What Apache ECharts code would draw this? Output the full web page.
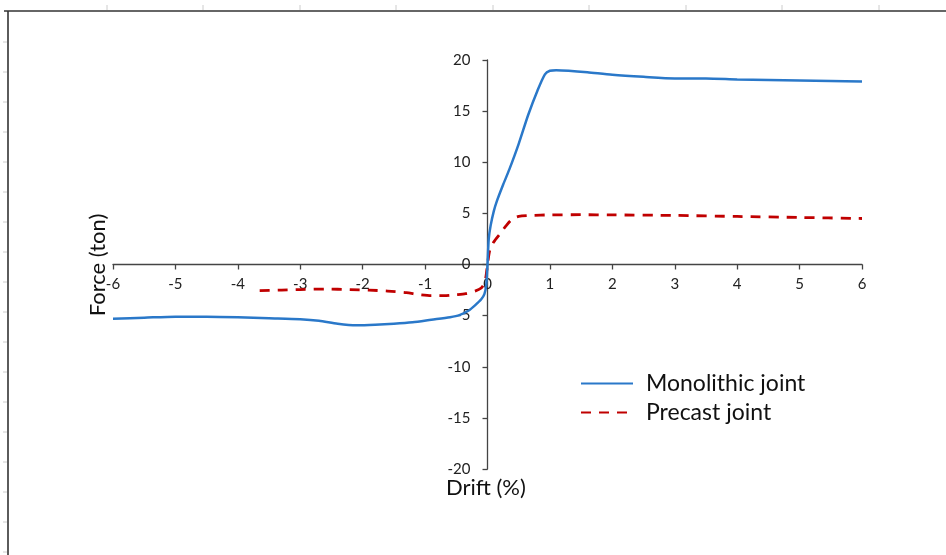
<!DOCTYPE html>
<html><head><meta charset="utf-8">
<script src="https://cdn.jsdelivr.net/npm/echarts@6/dist/echarts.min.js"></script>
<style>html,body{margin:0;padding:0;background:#fff}#c{width:946px;height:555px}</style>
</head><body><div id="c"></div>
<script>
const xTicks = [-6,-5,-4,-3,-2,-1,0,1,2,3,4,5,6];
const yTicks = [-20,-15,-10,-5,0,5,10,15,20];
const seriesNames = ['Monolithic joint','Precast joint'];
const monoDrift = [-6,-5.5,-5,-4.5,-4,-3.5,-3,-2.7,-2.4,-2.1,-1.8,-1.5,-1.2,-0.9,-0.6,-0.45,-0.3,-0.2,-0.1,-0.05,-0.02,0,0.02,0.05,0.1,0.15,0.25,0.35,0.5,0.65,0.8,0.92,1.0,1.1,1.3,1.6,2,2.5,3,3.5,4,4.5,5,5.5,6];
const monoForce = [-5.3,-5.2,-5.1,-5.1,-5.15,-5.25,-5.35,-5.5,-5.8,-5.95,-5.9,-5.8,-5.65,-5.4,-5.15,-4.95,-4.5,-4.0,-3.4,-2.9,-2.0,0,2.5,3.8,5.2,6.2,7.8,9.3,11.8,14.6,17.0,18.6,18.95,19.0,18.95,18.8,18.55,18.35,18.2,18.2,18.1,18.05,18.0,17.95,17.9];
const precDrift = [-3.65,-3.3,-3,-2.6,-2.2,-1.9,-1.6,-1.3,-1.1,-0.9,-0.7,-0.5,-0.35,-0.2,-0.1,-0.04,0,0.04,0.1,0.2,0.3,0.4,0.5,0.7,1,1.5,2,3,4,5,6];
const precForce = [-2.55,-2.5,-2.45,-2.4,-2.45,-2.5,-2.6,-2.75,-2.95,-3.05,-3.05,-2.95,-2.85,-2.6,-2.3,-1.7,0,1.5,2.2,3.0,3.8,4.45,4.7,4.8,4.85,4.87,4.85,4.8,4.7,4.6,4.5];

const pair = (xs, ys) => xs.map((x,i)=>[x, ys[i]]);
const FONT = 'Lato';
const chart = echarts.init(document.getElementById('c'));

const gfx = [
  {type:'line', shape:{x1:4,y1:11,x2:946,y2:11}, style:{stroke:'#333',lineWidth:1.6}},
  {type:'line', shape:{x1:8,y1:11,x2:8,y2:555}, style:{stroke:'#333',lineWidth:1.6}},
  {type:'text', x:98, y:265, rotation:Math.PI/2, style:{text:'Force (ton)', font:'22px '+FONT, fill:'#111', align:'center', verticalAlign:'middle'}},
  {type:'text', left:446, top:477, style:{text:'Drift (%)', font:'22px '+FONT, fill:'#111'}}
];
[107,203,300,396,493,589,686,782,879].forEach(x=>gfx.push({type:'line', shape:{x1:x,y1:5,x2:x,y2:10}, style:{stroke:'#ccc',lineWidth:1}}));
[42,72,102,132,162,192,222,252,282,312,342,372,402,432,462,492,522,552].forEach(y=>gfx.push({type:'line', shape:{x1:3,y1:y,x2:7,y2:y}, style:{stroke:'#ccc',lineWidth:1}}));

const GL = 113, GR = 84, GT = 60, GB = 86;
const gridW = 946 - GL - GR, gridH = 555 - GT - GB;

chart.setOption({
  animation:false,
  backgroundColor:'#fff',
  grid:{left:GL, right:GR, top:GT, bottom:GB, containLabel:false},
  legend:{
    orient:'vertical', left:580, top:372, padding:0, itemWidth:52, itemHeight:14, itemGap:6,
    data:seriesNames,
    itemStyle:{opacity:0},
    textStyle:{fontFamily:FONT, fontSize:23, color:'#111', padding:[0,0,0,8]}
  },
  xAxis:{
    type:'value', min:-6, max:6, interval:1, position:'bottom', offset:-gridH/2,
    axisLine:{onZero:false, lineStyle:{color:'#444', width:1.3}},
    axisTick:{show:true, length:5, inside:false, lineStyle:{color:'#444', width:1.3}},
    axisLabel:{margin:12, fontFamily:FONT, fontSize:15, color:'#222',
      formatter:v=> xTicks.includes(v) ? String(v) : ''},
    splitLine:{show:false}
  },
  yAxis:{
    type:'value', min:-20, max:20, interval:5, position:'left', offset:-gridW/2,
    axisLine:{show:true, onZero:false, lineStyle:{color:'#444', width:1.3}},
    axisTick:{show:true, length:5, inside:false, lineStyle:{color:'#444', width:1.3}},
    axisLabel:{margin:17, fontFamily:FONT, fontSize:15, color:'#222',
      formatter:v=> yTicks.includes(v) ? String(v) : ''},
    splitLine:{show:false}
  },
  series:[
    {name:seriesNames[0], type:'line', data:pair(monoDrift, monoForce), showSymbol:false, symbol:'none', smooth:0.25,
     lineStyle:{color:'#2A78C9', width:2.5}, itemStyle:{color:'#2A78C9'}, z:3},
    {name:seriesNames[1], type:'line', data:pair(precDrift, precForce), showSymbol:false, symbol:'none', smooth:0.25,
     lineStyle:{color:'#C00000', width:2.8, type:[10,8]}, itemStyle:{color:'#C00000'}, z:2}
  ],
  graphic:gfx
});
</script></body></html>
